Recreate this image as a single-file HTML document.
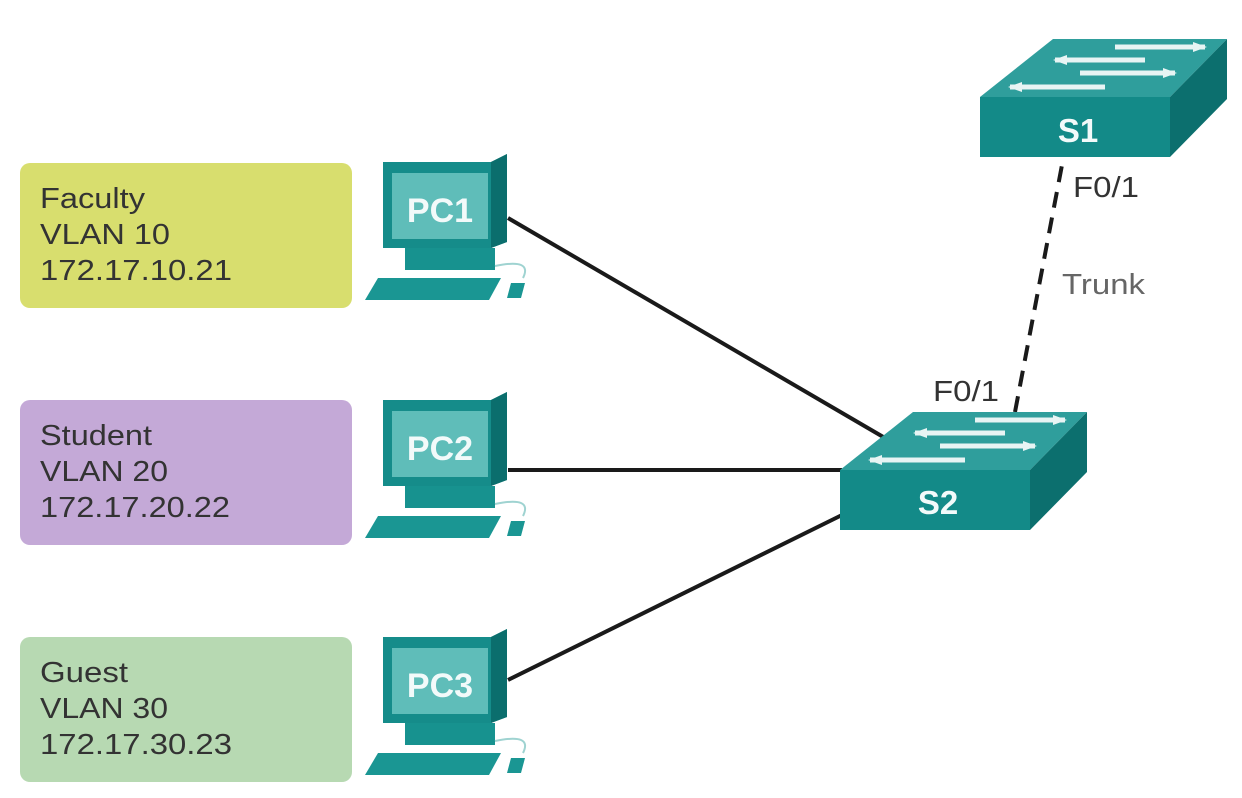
<!DOCTYPE html>
<html><head><style>
body{margin:0;background:#fff;}
svg{display:block;font-family:"Liberation Sans",Arial,sans-serif;}
</style></head><body>
<svg width="1242" height="798" viewBox="0 0 1242 798">
<defs>
<g id="sw">
<polygon points="0,0 190,0 247,-58 73,-58" fill="#2f9e9c"/>
<polygon points="0,0 190,0 190,60 0,60" fill="#138a88"/>
<polygon points="190,0 247,-58 247,2 190,60" fill="#0c6f6e"/>
<g stroke="#e8f4f4" stroke-width="5" fill="none">
<line x1="30" y1="-10" x2="125" y2="-10"/><line x1="100" y1="-24" x2="195" y2="-24"/>
<line x1="75" y1="-37" x2="165" y2="-37"/><line x1="135" y1="-50" x2="225" y2="-50"/>
</g>
<g fill="#e8f4f4">
<polygon points="28,-10 42,-15 42,-5"/><polygon points="197,-24 183,-29 183,-19"/>
<polygon points="73,-37 87,-42 87,-32"/><polygon points="227,-50 213,-55 213,-45"/>
</g>
</g>
<g id="pc">
<polygon points="0,4 108,4 124,-4 124,84 108,90 0,90" fill="#158c8a"/>
<polygon points="108,4 124,-4 124,84 108,90" fill="#0b6e6d"/>
<rect x="9" y="15" width="96" height="66" fill="#5fbdb9"/>
<rect x="22" y="90" width="90" height="22" fill="#17928f"/>
<polygon points="-5,120 118,120 106,142 -18,142" fill="#1a9693"/>
<polygon points="128,125 142,125 138,140 124,140" fill="#1a9693"/>
<path d="M112,108 Q150,100 140,120" stroke="#9fd3d1" fill="none" stroke-width="2"/>
</g>
</defs>

<rect x="20" y="163" width="332" height="145" rx="10" fill="#d8de6e"/>
<rect x="20" y="400" width="332" height="145" rx="10" fill="#c4a9d7"/>
<rect x="20" y="637" width="332" height="145" rx="10" fill="#b7d9b2"/>
<g font-size="29" fill="#333" lengthAdjust="spacingAndGlyphs">
<text x="40" y="208" textLength="105" lengthAdjust="spacingAndGlyphs">Faculty</text><text x="40" y="244" textLength="130" lengthAdjust="spacingAndGlyphs">VLAN 10</text><text x="40" y="280" textLength="192" lengthAdjust="spacingAndGlyphs">172.17.10.21</text>
<text x="40" y="445" textLength="112" lengthAdjust="spacingAndGlyphs">Student</text><text x="40" y="481" textLength="128" lengthAdjust="spacingAndGlyphs">VLAN 20</text><text x="40" y="517" textLength="190" lengthAdjust="spacingAndGlyphs">172.17.20.22</text>
<text x="40" y="682" textLength="88" lengthAdjust="spacingAndGlyphs">Guest</text><text x="40" y="718" textLength="128" lengthAdjust="spacingAndGlyphs">VLAN 30</text><text x="40" y="754" textLength="192" lengthAdjust="spacingAndGlyphs">172.17.30.23</text>
</g>

<g stroke="#1a1a1a" stroke-width="4">
<line x1="508" y1="218" x2="885" y2="438"/>
<line x1="508" y1="470" x2="842" y2="470"/>
<line x1="508" y1="680" x2="842" y2="515"/>
<line x1="1015" y1="412" x2="1062" y2="165" stroke-dasharray="16,10"/>
</g>

<use href="#pc" x="383" y="158"/>
<use href="#pc" x="383" y="396"/>
<use href="#pc" x="383" y="633"/>
<g font-size="34" font-weight="bold" fill="#f2fafa" text-anchor="middle">
<text x="440" y="222">PC1</text><text x="440" y="460">PC2</text><text x="440" y="697">PC3</text>
</g>

<use href="#sw" x="840" y="470"/>
<use href="#sw" x="980" y="97"/>
<g font-size="33" font-weight="bold" fill="#f2fafa" text-anchor="middle">
<text x="938" y="514">S2</text><text x="1078" y="142">S1</text>
</g>
<g font-size="29" fill="#333">
<text x="933" y="401" textLength="66" lengthAdjust="spacingAndGlyphs">F0/1</text>
<text x="1073" y="197" textLength="66" lengthAdjust="spacingAndGlyphs">F0/1</text>
<text x="1062" y="294" fill="#666" textLength="83" lengthAdjust="spacingAndGlyphs">Trunk</text>
</g>
</svg>
</body></html>
